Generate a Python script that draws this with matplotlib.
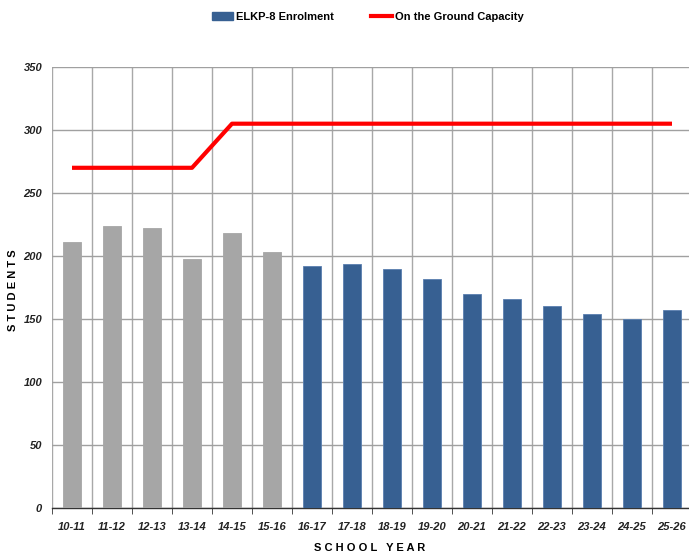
import matplotlib
matplotlib.use("Agg")
import matplotlib.pyplot as plt
import numpy as np
from matplotlib.patches import Patch
from matplotlib.lines import Line2D

years = ["10-11", "11-12", "12-13", "13-14", "14-15", "15-16", "16-17", "17-18",
         "18-19", "19-20", "20-21", "21-22", "22-23", "23-24", "24-25", "25-26"]
enrolment = [211, 224, 222, 198, 218, 203, 192, 194, 190, 182, 170, 166, 160, 154, 150, 157]
capacity = [270, 270, 270, 270, 305, 305, 305, 305, 305, 305, 305, 305, 305, 305, 305, 305]
n_actual = 6  # first years drawn in grey (actual)

plt.rcParams['font.family'] = ['Liberation Sans Narrow', 'Liberation Sans', 'DejaVu Sans']

fig = plt.figure(figsize=(6.89, 5.57), dpi=100)
ax = fig.add_axes([52/689, 1 - 508/557, 640/689, 441/557])

x = np.arange(len(years))
colors = ['#a6a6a6' if i < n_actual else '#376092' for i in range(len(years))]
edges = ['#a6a6a6' if i < n_actual else '#5a7fb0' for i in range(len(years))]
ax.bar(x, enrolment, width=0.43, color=colors, edgecolor=edges, linewidth=0.6, zorder=3)
ax.plot(x, capacity, color='#ff0000', linewidth=3, zorder=4, solid_capstyle='butt')

ax.set_xlim(-0.5, len(years) - 0.5)
ax.set_ylim(0, 350)
ax.set_yticks(np.arange(0, 351, 50))
ax.set_xticks(x)
ax.set_xticklabels(years)
ax.set_xticks(np.arange(-0.5, len(years), 1), minor=True)

ax.grid(axis='y', which='major', color='#a0a0a0', linewidth=1, zorder=0)
ax.grid(axis='x', which='minor', color='#a8a8a8', linewidth=1, zorder=0)
ax.grid(axis='x', which='major', visible=False)

for s in ['top', 'right', 'left']:
    ax.spines[s].set_visible(False)
ax.spines['bottom'].set_color('#333333')
ax.spines['bottom'].set_linewidth(1)

ax.tick_params(axis='x', which='major', length=0, pad=10)
ax.tick_params(axis='x', which='minor', length=4, color='#333333')
ax.tick_params(axis='y', length=0, pad=7)

for lab in ax.get_xticklabels():
    lab.set_fontweight('bold')
    lab.set_fontstyle('italic')
    lab.set_fontsize(8)
    lab.set_color('#222222')
for lab in ax.get_yticklabels():
    lab.set_fontweight('bold')
    lab.set_fontstyle('italic')
    lab.set_fontsize(8)
    lab.set_color('#222222')

fig.text(13/689, 1 - 290/557, "S T U D E N T S", rotation=90, ha='center', va='center',
         fontsize=8, fontweight='bold', family=['Liberation Sans', 'DejaVu Sans'])
fig.text(370/689, 1 - 548/557, "S C H O O L   Y E A R", ha='center', va='center',
         fontsize=8, fontweight='bold', family=['Liberation Sans', 'DejaVu Sans'])

handles = [Patch(facecolor='#376092', edgecolor='#376092'),
           Line2D([0], [0], color='#ff0000', linewidth=3)]
fig.legend(handles, ["ELKP-8 Enrolment", "On the Ground Capacity"],
           loc='center', bbox_to_anchor=(368/689, 1 - 17/557), ncol=2, frameon=False,
           prop={'weight': 'bold', 'size': 8}, handlelength=1.9, handleheight=0.7,
           columnspacing=3.3, handletextpad=0.3)

fig.savefig("out.png", dpi=100)
